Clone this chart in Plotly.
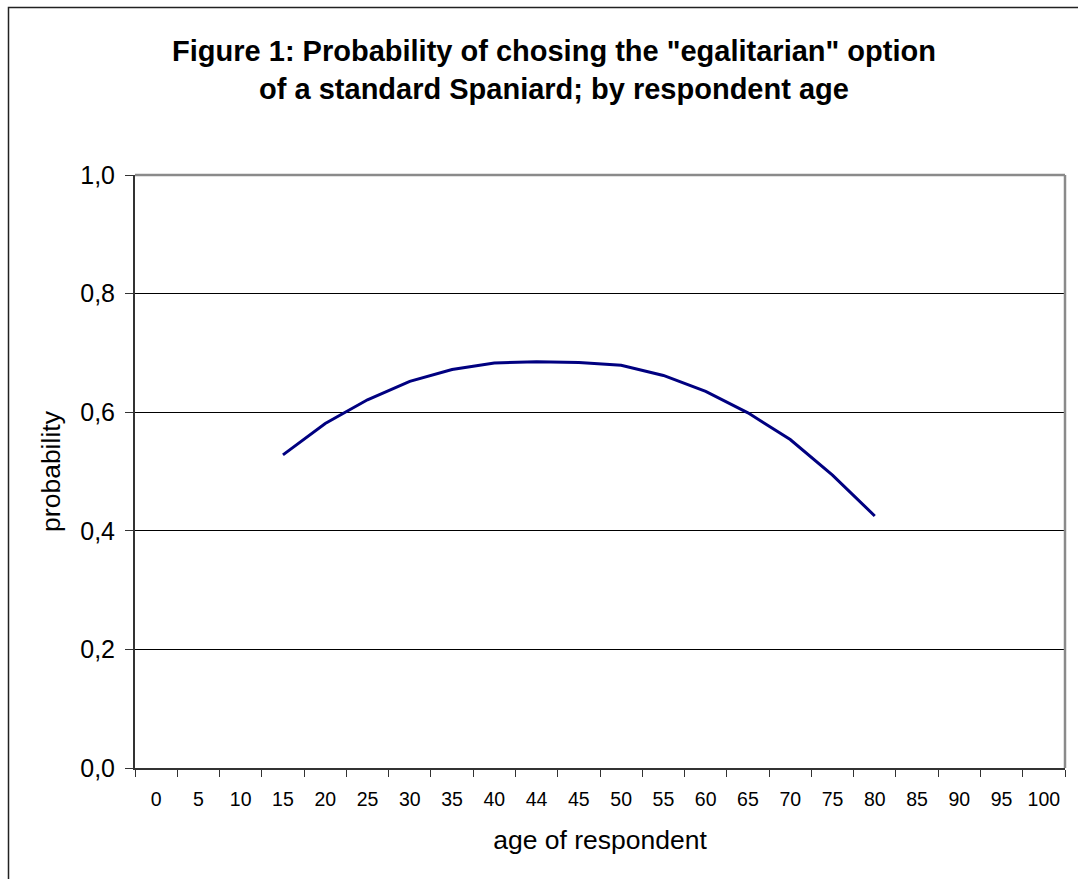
import plotly.graph_objects as go

# Data
categories = ["0", "5", "10", "15", "20", "25", "30", "35", "40", "44", "45",
              "50", "55", "60", "65", "70", "75", "80", "85", "90", "95", "100"]
ages = ["15", "20", "25", "30", "35", "40", "44", "45", "50", "55", "60", "65", "70", "75", "80"]
probability = [0.528, 0.581, 0.621, 0.652, 0.672, 0.683, 0.685, 0.684, 0.679,
               0.662, 0.635, 0.599, 0.554, 0.494, 0.425]
y_ticks = [0.0, 0.2, 0.4, 0.6, 0.8, 1.0]

W, H = 1078, 879
L, R, T, B = 135, 13, 175, 111
PW, PH = W - L - R, H - T - B

def px_x(x):
    return (x - L) / PW

def px_y(y):
    return (H - B - y) / PH

FONT = "Liberation Sans, Arial, sans-serif"

fig = go.Figure()
fig.add_trace(go.Scatter(
    x=ages, y=probability, mode="lines",
    line=dict(color="#000080", width=3),
    showlegend=False, hoverinfo="x+y",
))

fig.update_layout(
    width=W, height=H,
    margin=dict(l=L, r=R, t=T, b=B, autoexpand=False),
    paper_bgcolor="white", plot_bgcolor="white",
    separators=",.",
    font=dict(family=FONT, color="black"),
    title=dict(
        text="<b>Figure 1: Probability of chosing the \"egalitarian\" option</b><br>"
             "<b>of a standard Spaniard; by respondent age</b>",
        x=554 / W, xanchor="center", xref="container",
        y=1 - 61 / H, yanchor="middle", yref="container",
        font=dict(size=29, family=FONT, color="black"),
    ),
    xaxis=dict(
        type="category", categoryorder="array", categoryarray=categories,
        tickvals=categories, ticktext=categories,
        range=[-0.5, len(categories) - 0.5],
        tickson="boundaries", ticks="outside", ticklen=7, tickwidth=1, tickcolor="#333",
        ticklabelstandoff=13, tickangle=0, automargin=False,
        showline=True, linecolor="#333", linewidth=2,
        showgrid=False, zeroline=False,
        tickfont=dict(size=19.5, family=FONT, color="black"),
        title=dict(text="age of respondent", font=dict(size=26.5, family=FONT, color="black"),
                   standoff=21),
        fixedrange=True,
    ),
    yaxis=dict(
        range=[0, 1], tickvals=y_ticks, tickformat=".1f",
        ticks="outside", ticklen=8, tickwidth=1, tickcolor="#333",
        ticklabelstandoff=5, automargin=False,
        showline=True, linecolor="#333", linewidth=2,
        showgrid=True, gridcolor="black", gridwidth=1, zeroline=False,
        tickfont=dict(size=25, family=FONT, color="black"),
        title=dict(text="probability", font=dict(size=26.5, family=FONT, color="black"),
                   standoff=12),
        fixedrange=True,
    ),
    shapes=[
        # gray top and right plot border
        dict(type="line", xref="paper", yref="paper", x0=0, x1=1, y0=1, y1=1,
             line=dict(color="#8a8a8a", width=2.5)),
        dict(type="line", xref="paper", yref="paper", x0=1, x1=1, y0=0, y1=1,
             line=dict(color="#8a8a8a", width=2.5)),
        # outer chart frame
        dict(type="rect", xref="paper", yref="paper",
             x0=px_x(8.5), x1=px_x(1090), y0=px_y(900), y1=px_y(7.5),
             line=dict(color="#222", width=1.5), layer="below"),
    ],
)

fig.write_html("out.html", config={"displayModeBar": False},
               post_script="document.body.style.margin='0';document.body.style.overflow='hidden';")
